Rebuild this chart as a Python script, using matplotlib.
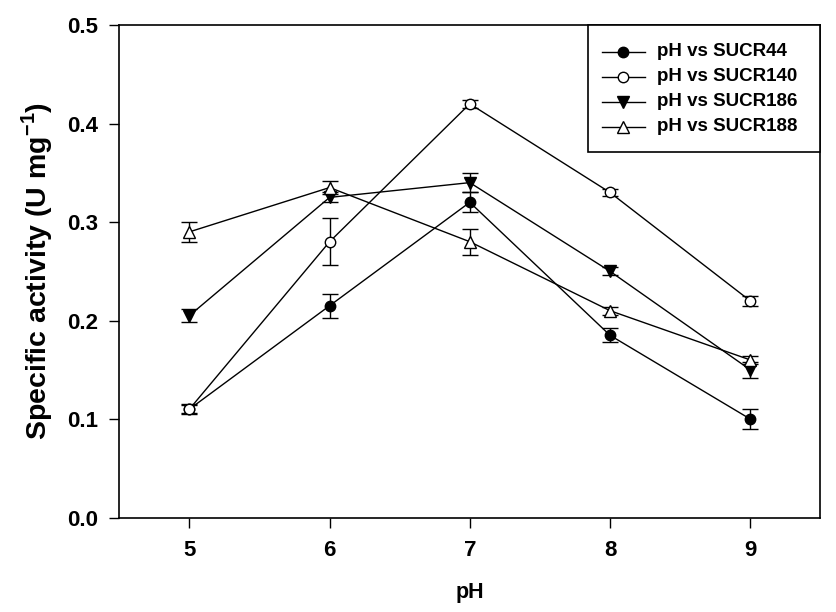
import matplotlib
matplotlib.use("Agg")
import matplotlib.pyplot as plt
from matplotlib.lines import Line2D
from matplotlib.patches import Rectangle

plt.rcParams['font.family'] = ['Liberation Sans', 'DejaVu Sans']
plt.rcParams['font.weight'] = 'bold'
plt.rcParams['mathtext.fontset'] = 'custom'
plt.rcParams['mathtext.rm'] = 'Liberation Sans:bold'
plt.rcParams['mathtext.bf'] = 'Liberation Sans:bold'

ph = [5, 6, 7, 8, 9]

sucr44 = [0.11, 0.215, 0.32, 0.185, 0.10]
sucr44_err = [0.005, 0.012, 0.01, 0.007, 0.01]
sucr140 = [0.11, 0.28, 0.42, 0.33, 0.22]
sucr140_err = [0.004, 0.024, 0.004, 0.004, 0.005]
sucr186 = [0.205, 0.325, 0.34, 0.25, 0.15]
sucr186_err = [0.007, 0.005, 0.01, 0.004, 0.008]
sucr188 = [0.29, 0.335, 0.28, 0.21, 0.16]
sucr188_err = [0.01, 0.007, 0.013, 0.004, 0.004]

labels = ["pH vs SUCR44", "pH vs SUCR140", "pH vs SUCR186", "pH vs SUCR188"]
values = [sucr44, sucr140, sucr186, sucr188]
errors = [sucr44_err, sucr140_err, sucr186_err, sucr188_err]
markers = ["o", "o", "v", "^"]
faces = ["black", "white", "black", "white"]
msizes = [7.5, 7.5, 9, 9]

fig = plt.figure(figsize=(8.36, 6.12), dpi=100)
ax = fig.add_axes([0.1427, 0.1544, 0.8385, 0.8047])

for vals, errs, mk, fc, ms in zip(values, errors, markers, faces, msizes):
    ax.errorbar(ph, vals, yerr=errs, marker=mk, markersize=ms,
                markerfacecolor=fc, markeredgecolor="black",
                markeredgewidth=1.0, color="black", linewidth=1.0,
                ecolor="black", elinewidth=1.0, capsize=5.5, capthick=1.0)

ax.set_xlim(4.5, 9.5)
ax.set_ylim(0.0, 0.5)
ax.set_xticks(ph)
yt = [0.0, 0.1, 0.2, 0.3, 0.4, 0.5]
ax.set_yticks(yt)
ax.set_yticklabels([f"{v:.1f}" for v in yt])
ax.tick_params(direction="out", length=7, width=1)
ax.tick_params(axis="x", labelsize=16, pad=9)
ax.tick_params(axis="y", labelsize=16, pad=8)
for sp in ax.spines.values():
    sp.set_linewidth(1.2)

ax.set_xlabel("pH", fontsize=15.5, fontweight="bold", labelpad=15)
ax.set_ylabel("Specific activity (U mg$^{-1}$)", fontsize=20.5,
              fontweight="bold", labelpad=9)

# legend box drawn by hand, SigmaPlot style
ax.add_patch(Rectangle((0.669, 0.7428), 0.331, 0.2572, transform=ax.transAxes,
                       facecolor="white", edgecolor="black", linewidth=1.2,
                       clip_on=False, zorder=5))
row_y = [0.9458, 0.8950, 0.8443, 0.7935]
for lab, mk, fc, ms, yy in zip(labels, markers, faces, msizes, row_y):
    ax.add_line(Line2D([0.688, 0.750], [yy, yy], color="black", linewidth=1.0,
                       transform=ax.transAxes, clip_on=False, zorder=6))
    ax.add_line(Line2D([0.719], [yy], marker=mk, markersize=ms,
                       markerfacecolor=fc, markeredgecolor="black",
                       markeredgewidth=1.0, linestyle="none",
                       transform=ax.transAxes, clip_on=False, zorder=7))
    ax.text(0.767, yy, lab, transform=ax.transAxes, fontsize=13.5,
            fontweight="bold", va="center", ha="left", zorder=7)

fig.savefig("out.png", dpi=100)
